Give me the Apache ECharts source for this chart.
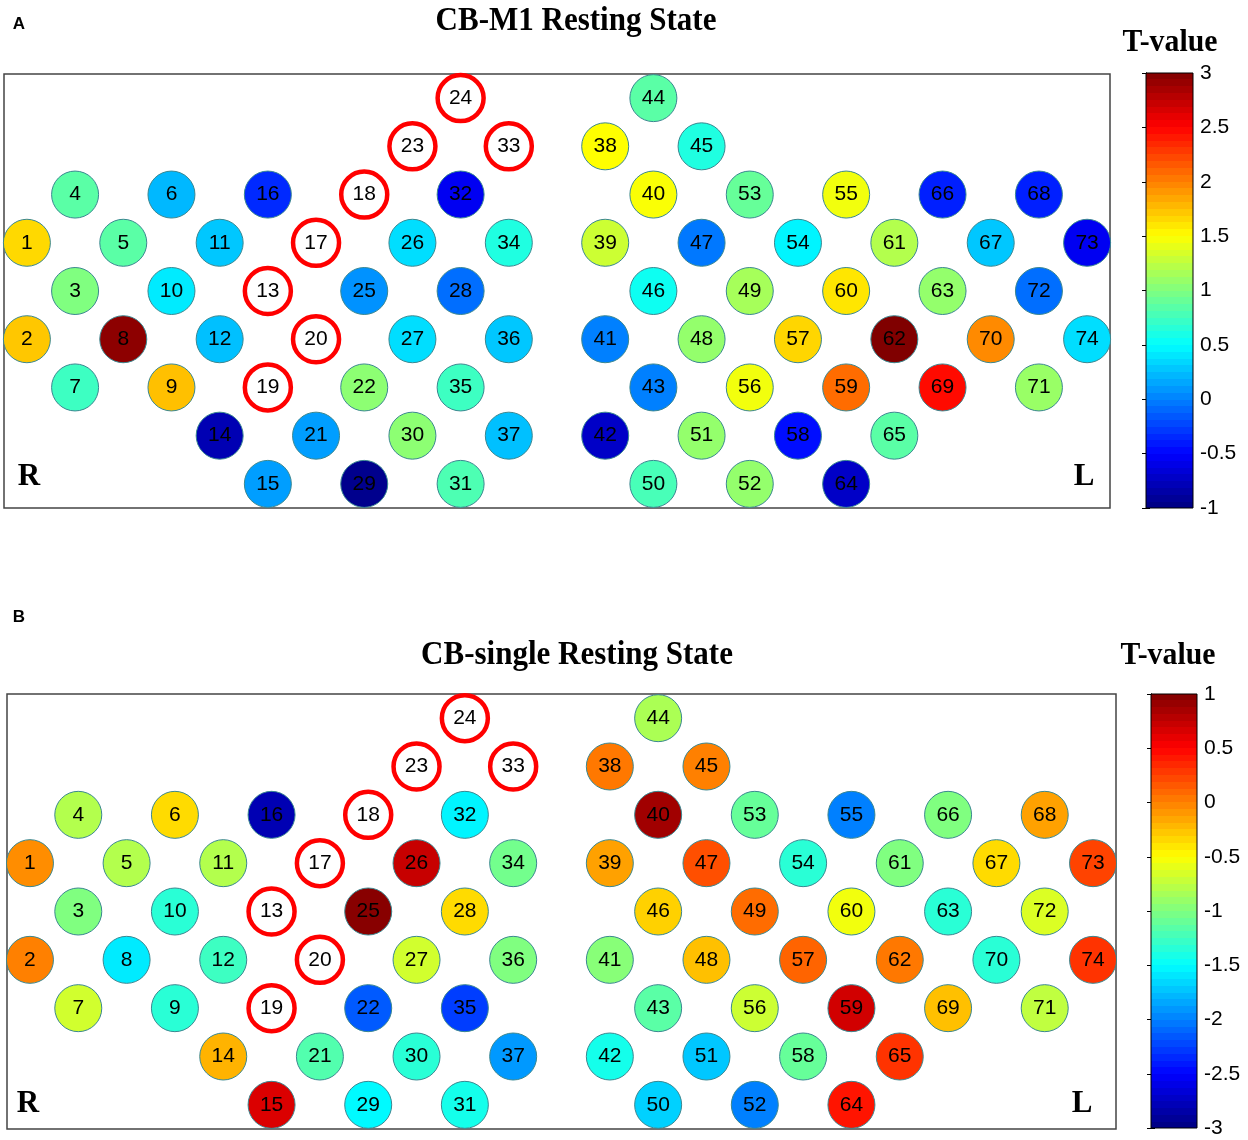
<!DOCTYPE html>
<html>
<head>
<meta charset="utf-8">
<script src="https://cdn.jsdelivr.net/npm/echarts@6/dist/echarts.min.js"></script>
<style>
html,body{margin:0;padding:0;background:#fff;}
#chart{width:1248px;height:1140px;}
</style>
</head>
<body>
<div id="chart"></div>
<script>
// ---- DATA ----
const channels = [1,2,3,4,5,6,7,8,9,10,11,12,13,14,15,16,17,18,19,20,21,22,23,24,25,26,27,28,29,30,31,32,33,34,35,36,37,
  38,39,40,41,42,43,44,45,46,47,48,49,50,51,52,53,54,55,56,57,58,59,60,61,62,63,64,65,66,67,68,69,70,71,72,73,74];
// probe-layout column / row index of each channel
const chanCol = [0,0,1,1,2,3,1,2,3,3,4,4,5,4,5,5,6,7,5,6,6,7,8,9,7,8,8,9,7,8,9,9,10,10,9,10,10,
  12,12,13,12,12,13,13,14,13,14,14,15,13,14,15,15,16,17,15,16,16,17,17,18,18,19,17,18,19,20,21,19,20,21,21,22,22];
const chanRow = [3,5,4,2,3,2,6,5,6,4,3,5,4,7,8,2,3,2,6,5,7,6,1,0,4,3,5,4,8,7,8,2,1,3,6,5,7,
  1,3,2,5,7,6,0,1,4,3,5,4,8,7,8,2,3,2,6,5,7,6,4,3,5,4,8,7,2,3,2,6,5,6,4,3,5];
// channels without data (drawn as red rings)
const missingChannels = [13,17,18,19,20,23,24,33];
// T-values, panel A (CB-M1 Resting State)
const tValuesA = [1.65,1.72,1.0,0.85,0.85,0.22,0.74,2.95,1.75,0.42,0.28,0.25,null,-0.8,0.12,-0.34,null,null,null,null,
  0.12,1.05,null,null,0.07,0.37,0.37,-0.07,-0.95,1.05,0.8,-0.55,null,0.62,0.74,0.28,0.25,
  1.5,1.3,1.48,0.0,-0.72,0.0,0.85,0.62,0.55,-0.03,1.08,1.15,0.78,1.08,1.08,0.9,0.46,1.45,1.45,1.66,-0.45,2.08,1.6,
  1.2,3.0,1.08,-0.72,0.85,-0.38,0.28,-0.38,2.46,1.96,1.1,-0.07,-0.55,0.37];
// T-values, panel B (CB-single Resting State)
const tValuesB = [-0.05,0.0,-1.0,-0.8,-0.8,-0.36,-0.68,-1.58,-1.34,-1.34,-0.8,-1.26,null,-0.2,0.64,-2.8,null,null,null,null,
  -1.18,-2.15,null,null,0.97,0.72,-0.68,-0.36,-1.52,-1.34,-1.42,-1.54,null,-1.05,-2.26,-1.0,-1.9,
  0.03,-0.13,0.87,-0.97,-1.42,-1.15,-0.83,0.0,-0.32,0.19,-0.25,0.08,-1.68,-1.72,-2.0,-1.1,-1.34,-2.0,-0.7,0.11,-1.1,0.68,-0.55,
  -1.0,0.03,-1.34,0.42,0.3,-1.0,-0.36,-0.13,-0.25,-1.34,-0.75,-0.64,0.24,0.3];
const rangeA = [-1, 3];
const rangeB = [-3, 1];
const tickStep = 0.5;
const titleA = 'CB-M1 Resting State';
const titleB = 'CB-single Resting State';
const cbarTitle = 'T-value';

// ---- helpers ----
const jetAnchors = ['#000080','#0000FF','#0080FF','#00FFFF','#80FF80','#FFFF00','#FF8000','#FF0000','#800000'];
function jet(t){
  const c = v => Math.max(0, Math.min(1, v));
  const r = c(1.5 - Math.abs(4*t - 3)), g = c(1.5 - Math.abs(4*t - 2)), b = c(1.5 - Math.abs(4*t - 1));
  return 'rgb(' + Math.round(r*255) + ',' + Math.round(g*255) + ',' + Math.round(b*255) + ')';
}
const bandStops = [];
for (let i = 0; i < 64; i++) {
  const col = jet((i + 0.5) / 64);
  bandStops.push({offset: i/64, color: col}, {offset: (i+1)/64, color: col});
}
function buildData(vals){
  const d = [];
  channels.forEach((ch, i) => { if (vals[i] !== null) d.push([chanCol[i], chanRow[i], vals[i], ch]); });
  return d;
}
function buildMissing(){
  return missingChannels.map(ch => { const i = channels.indexOf(ch); return [chanCol[i], chanRow[i], null, ch]; });
}

const labelFont = {show: true, position: 'inside', formatter: p => String(p.data[3]),
  fontSize: 21, fontFamily: 'Liberation Sans, Arial, sans-serif', color: '#000', opacity: 1};

const chart = echarts.init(document.getElementById('chart'), null, {renderer: 'canvas'});

const mainX = {type: 'value', min: -0.475, max: 22.475, show: false};
const mainY = {type: 'value', min: -0.5, max: 8.5, inverse: true, show: false};

function cbarAxes(grid, range, right){
  return {
    type: 'value', gridIndex: grid, min: range[0], max: range[1], interval: tickStep,
    position: right ? 'right' : 'left',
    axisLine: {show: true, lineStyle: {color: '#000', width: 1}},
    axisTick: {show: true, inside: true, length: 4, lineStyle: {color: '#000'}},
    axisLabel: {show: right, inside: false, margin: 7, fontSize: 21, color: '#000',
      fontFamily: 'Liberation Sans, Arial, sans-serif'},
    splitLine: {show: false}
  };
}
function cbarSeries(xi, yi, range){
  return {
    type: 'custom', xAxisIndex: xi, yAxisIndex: yi, silent: true,
    data: [[0, range[0], range[1]]],
    renderItem: function(params, api){
      const p0 = api.coord([0, api.value(1)]);
      const p1 = api.coord([1, api.value(2)]);
      return {type: 'rect', shape: {x: p0[0], y: p1[1], width: p1[0]-p0[0], height: p0[1]-p1[1]},
        style: {fill: new echarts.graphic.LinearGradient(0, 1, 0, 0, bandStops), stroke: '#000', lineWidth: 1}};
    }
  };
}

function txt(text, x, y, size, fam, sx){
  const font = (fam === 'sans' ? 'bold ' + size + 'px "Liberation Sans", Arial, sans-serif'
                               : 'bold ' + size + 'px "Liberation Serif", "Times New Roman", serif');
  return {type: 'text', x: x, y: y, scaleX: sx || 1, scaleY: 1, silent: true,
    style: {text: text, font: font, fill: '#000', align: 'center', verticalAlign: 'middle',
      textAlign: 'center', textVerticalAlign: 'middle'}};
}

const option = {
  animation: false,
  backgroundColor: '#fff',
  grid: [
    {left: 4, top: 74, width: 1106, height: 434, show: true, borderColor: '#444', borderWidth: 1.5, backgroundColor: '#fff'},
    {left: 7, top: 694, width: 1109, height: 435, show: true, borderColor: '#444', borderWidth: 1.5, backgroundColor: '#fff'},
    {left: 1146, top: 73, width: 47, height: 435},
    {left: 1151, top: 694, width: 46, height: 434}
  ],
  xAxis: [
    Object.assign({gridIndex: 0}, mainX),
    Object.assign({gridIndex: 1}, mainX),
    {type: 'value', gridIndex: 2, min: 0, max: 1, show: false},
    {type: 'value', gridIndex: 3, min: 0, max: 1, show: false}
  ],
  yAxis: [
    Object.assign({gridIndex: 0}, mainY),
    Object.assign({gridIndex: 1}, mainY),
    cbarAxes(2, rangeA, true),
    cbarAxes(2, rangeA, false),
    cbarAxes(3, rangeB, true),
    cbarAxes(3, rangeB, false)
  ],
  visualMap: [
    {type: 'continuous', show: false, seriesIndex: 0, dimension: 2, min: rangeA[0], max: rangeA[1], inRange: {color: jetAnchors}},
    {type: 'continuous', show: false, seriesIndex: 2, dimension: 2, min: rangeB[0], max: rangeB[1], inRange: {color: jetAnchors}}
  ],
  series: [
    {type: 'scatter', xAxisIndex: 0, yAxisIndex: 0, symbolSize: 47, data: buildData(tValuesA),
      itemStyle: {borderColor: '#3a8790', borderWidth: 1, opacity: 1}, label: labelFont, silent: true},
    {type: 'scatter', xAxisIndex: 0, yAxisIndex: 0, symbolSize: 46, data: buildMissing(),
      itemStyle: {color: '#fff', borderColor: '#FF0000', borderWidth: 4.5, opacity: 1}, label: labelFont, silent: true},
    {type: 'scatter', xAxisIndex: 1, yAxisIndex: 1, symbolSize: 47, data: buildData(tValuesB),
      itemStyle: {borderColor: '#3a8790', borderWidth: 1, opacity: 1}, label: labelFont, silent: true},
    {type: 'scatter', xAxisIndex: 1, yAxisIndex: 1, symbolSize: 46, data: buildMissing(),
      itemStyle: {color: '#fff', borderColor: '#FF0000', borderWidth: 4.5, opacity: 1}, label: labelFont, silent: true},
    cbarSeries(2, 2, rangeA),
    cbarSeries(3, 4, rangeB)
  ],
  graphic: [
    txt('A', 19, 24, 17, 'sans'),
    txt('B', 19, 617, 17, 'sans'),
    txt(titleA, 576, 21, 33, 'serif', 0.94),
    txt(titleB, 577, 655, 33, 'serif', 0.94),
    txt(cbarTitle, 1170, 43, 32, 'serif', 0.93),
    txt(cbarTitle, 1168, 656, 32, 'serif', 0.93),
    txt('R', 29, 477, 31),
    txt('L', 1084, 477, 31),
    txt('R', 28, 1104, 31),
    txt('L', 1082, 1104, 31)
  ]
};
chart.setOption(option);
</script>
</body>
</html>
